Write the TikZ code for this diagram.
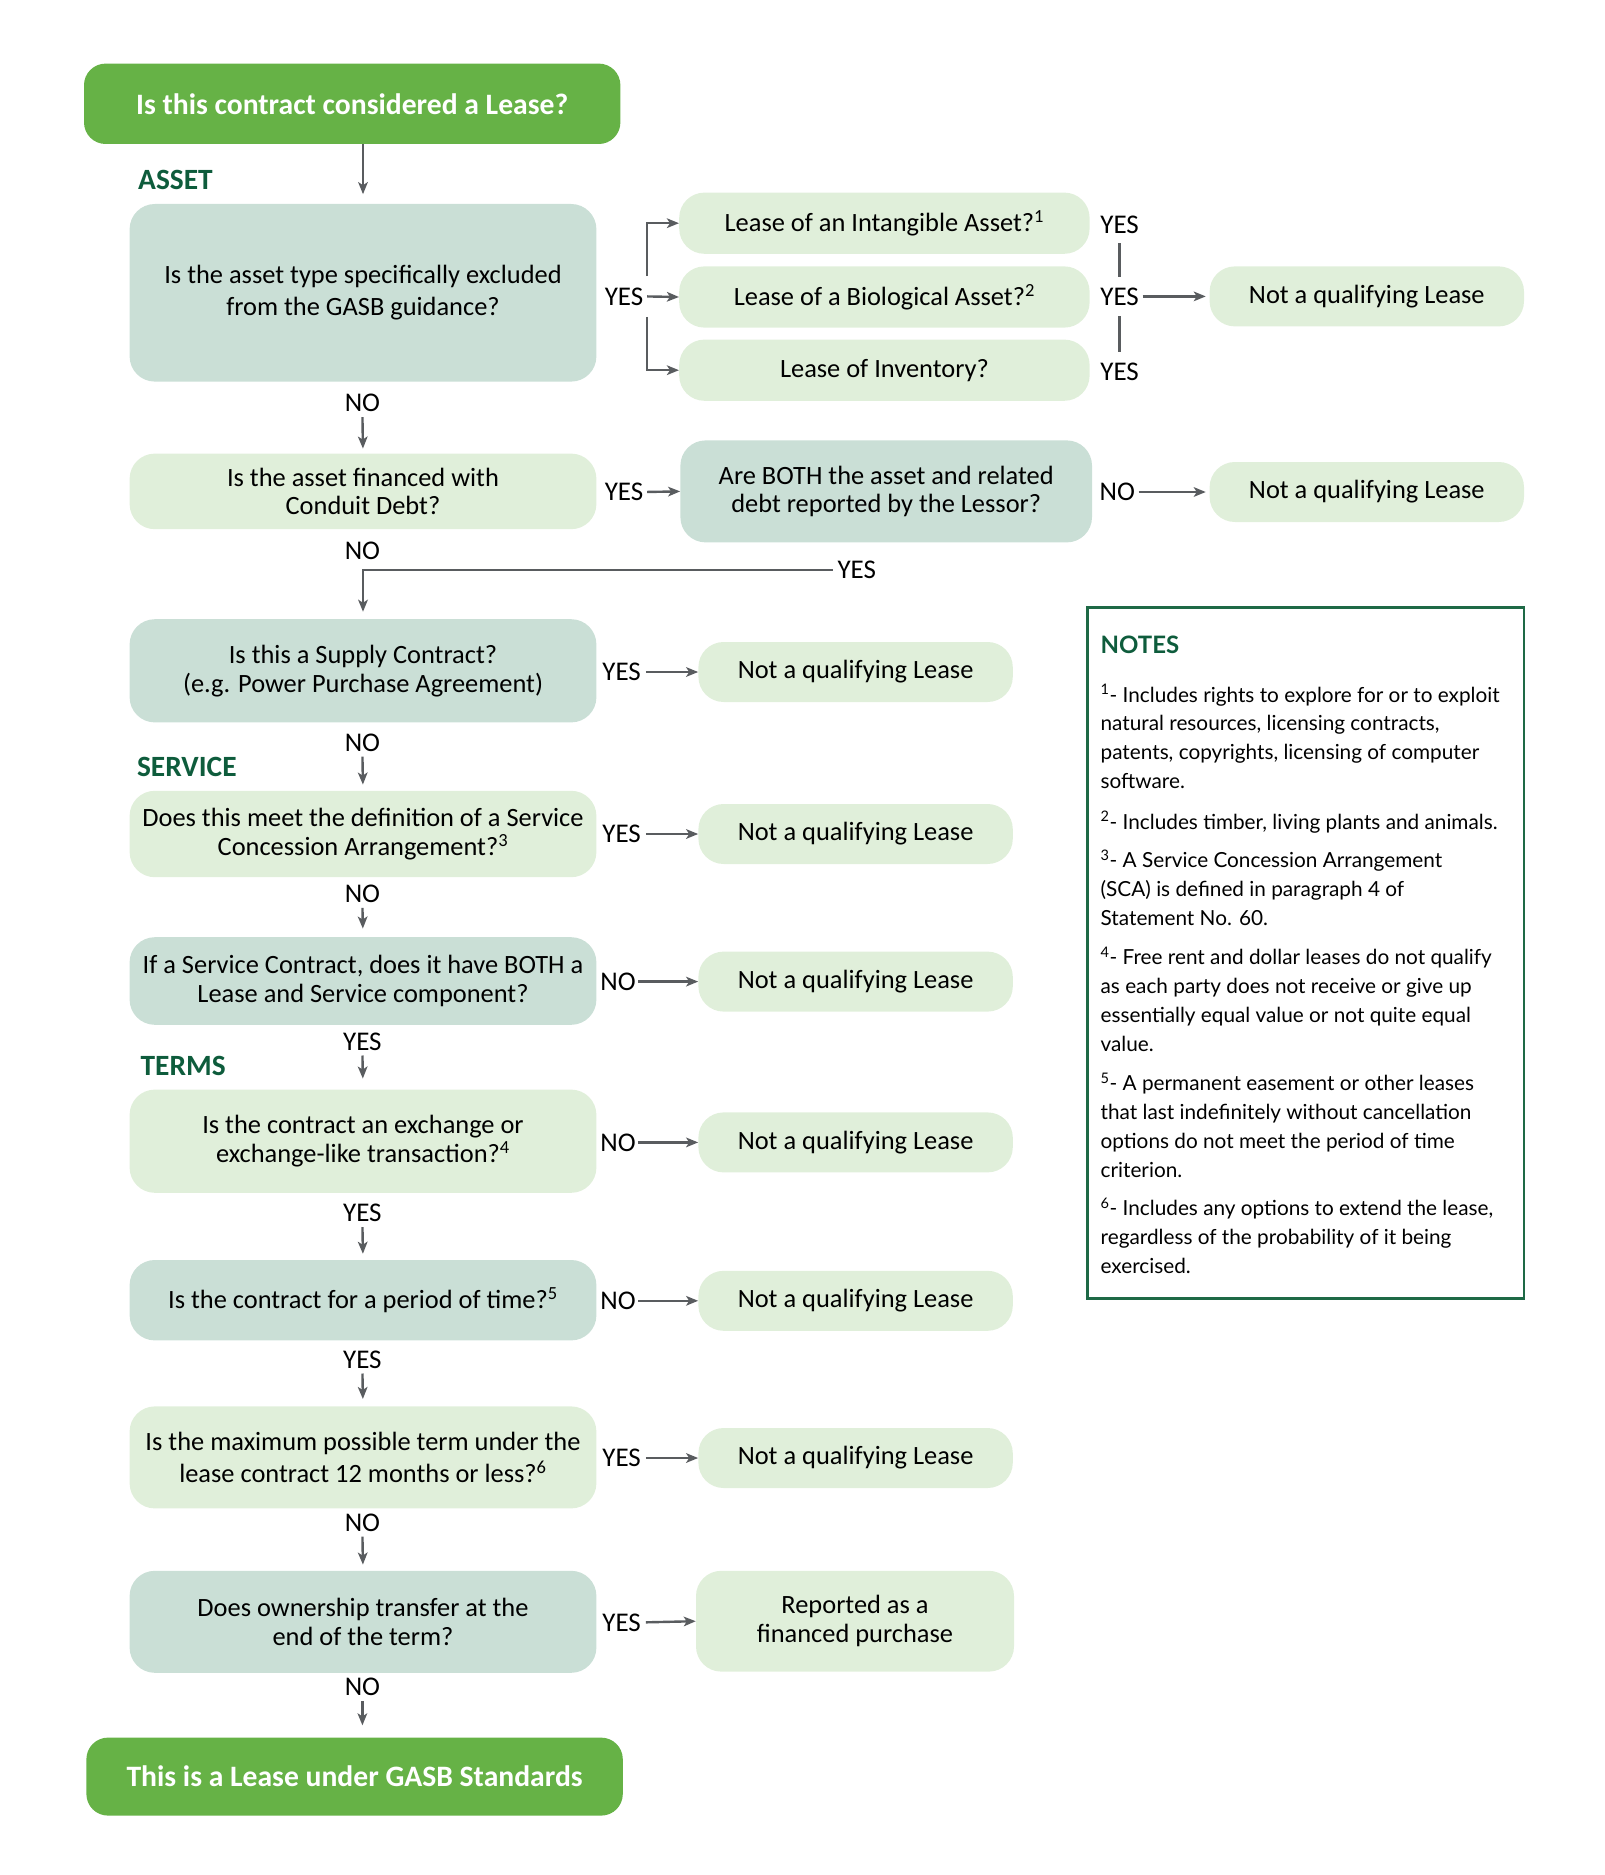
\documentclass[tikz,border=0pt]{standalone}
\usepackage{fontspec}
\setmainfont{Carlito}
\newfontfamily\notesfont{Lato}
\usetikzlibrary{arrows.meta}
\definecolor{brightg}{RGB}{102,178,70}
\definecolor{qgray}{RGB}{202,223,214}
\definecolor{qlight}{RGB}{224,239,218}
\definecolor{darkg}{RGB}{14,92,60}
\definecolor{arrowg}{RGB}{89,92,95}
\definecolor{notesb}{RGB}{30,105,70}
\newcommand\nline[3]{\node[nt] (#1) at (917,#2) {#3};}
\begin{document}
\begin{tikzpicture}[x=1pt,y=-1pt,
  box/.style={rounded corners=21pt, align=center, inner sep=0pt, font=\fontsize{22}{24}\selectfont},
  qa/.style={box, fill=qgray, minimum width=389pt},
  qb/.style={box, fill=qlight, minimum width=389pt},
  res/.style={box, fill=qlight, minimum width=262pt, minimum height=50pt},
  lq/.style={box, fill=qlight, minimum width=342pt, minimum height=51pt},
  term/.style={rounded corners=18pt, fill=brightg, text=white, inner sep=0pt, font=\bfseries\fontsize{24.7}{28}\selectfont, minimum width=447pt},
  lbl/.style={font=\fontsize{22.5}{24}\selectfont, inner sep=1pt},
  sec/.style={font=\bfseries\fontsize{24.5}{26}\selectfont, text=darkg, anchor=west, inner sep=0pt},
  arr/.style={draw=arrowg, line width=2pt, -{Stealth[length=10pt,width=8pt,inset=2.5pt]}},
  ln/.style={draw=arrowg, line width=2pt},
  nt/.style={font=\notesfont\fontsize{17.3}{24}\selectfont, anchor=base west, inner sep=0pt}
]
\useasboundingbox (0,0) rectangle (1336.7,1562.5);

% main column
\node[term, minimum height=67pt] (start) at (293.5,86.5) {Is this contract considered a Lease?};
\node[sec] (asset) at (115,150) {ASSET};
\node[qa, minimum height=148pt, font=\fontsize{22}{27}\selectfont] (A1) at (302.5,244) {Is the asset type specifically excluded\\from the GASB guidance?};
\node[lbl] (no1) at (302,336) {NO};
\node[qb, minimum height=63pt] (A2) at (302.5,409.5) {Is the asset financed with\\Conduit Debt?};
\node[lbl] (no2) at (302,459) {NO};
\node[qa, minimum height=86pt] (S1) at (302.5,559) {Is this a Supply Contract?\\(e.g. Power Purchase Agreement)};
\node[lbl] (no3) at (302,619) {NO};
\node[sec] (service) at (114,639) {SERVICE};
\node[qb, minimum height=72pt] (S2) at (302.5,695) {Does this meet the definition of a Service\\Concession Arrangement?\textsuperscript{3}};
\node[lbl] (no4) at (302,745) {NO};
\node[qa, minimum height=73pt] (S3) at (302.5,817.5) {If a Service Contract, does it have BOTH a\\Lease and Service component?};
\node[lbl] (yes5) at (302,868) {YES};
\node[sec] (terms) at (117,888) {TERMS};
\node[qb, minimum height=86pt] (T1) at (302.5,951) {Is the contract an exchange or\\exchange-like transaction?\textsuperscript{4}};
\node[lbl] (yes6) at (302,1011) {YES};
\node[qa, minimum height=67pt] (T2) at (302.5,1083.5) {Is the contract for a period of time?\textsuperscript{5}};
\node[lbl] (yes7) at (302,1133) {YES};
\node[qb, minimum height=85pt, font=\fontsize{22}{27}\selectfont] (T3) at (302.5,1214.5) {Is the maximum possible term under the\\lease contract 12 months or less?\textsuperscript{6}};
\node[lbl] (no8) at (302,1269) {NO};
\node[qa, minimum height=85pt] (T4) at (302.5,1351.5) {Does ownership transfer at the\\end of the term?};
\node[lbl] (no9) at (302,1406) {NO};
\node[term, minimum height=65pt] (end) at (295.5,1480.5) {This is a Lease under GASB Standards};

% top right
\node[lq] (L1) at (737,186) {Lease of an Intangible Asset?\textsuperscript{1}};
\node[lq] (L2) at (737,247.5) {Lease of a Biological Asset?\textsuperscript{2}};
\node[lq] (L3) at (737,308.5) {Lease of Inventory?};
\node[lbl] (ya) at (520,247) {YES};
\coordinate (br) at (539,247);
\node[lbl] (yl1) at (933,187) {YES};
\node[lbl] (yl2) at (933,247) {YES};
\node[lbl] (yl3) at (933,310) {YES};
\node[res] (RL) at (1139,247) {Not a qualifying Lease};

\node[lbl] (yb) at (520,410) {YES};
\node[box, fill=qgray, minimum width=343pt, minimum height=85pt] (both) at (738.5,409.5) {Are BOTH the asset and related\\debt reported by the Lessor?};
\node[lbl] (nb) at (931,410) {NO};
\node[res] (RB) at (1139,410) {Not a qualifying Lease};
\node[lbl, inner sep=4pt] (yc) at (714,475) {YES};

% results
\node[lbl] (ys1) at (518,560) {YES};
\node[res] (R1) at (713,560) {Not a qualifying Lease};
\node[lbl] (ys2) at (518,695) {YES};
\node[res] (R2) at (713,695) {Not a qualifying Lease};
\node[lbl] (ns3) at (515,818) {NO};
\node[res] (R3) at (713,818) {Not a qualifying Lease};
\node[lbl] (nt1) at (515,952) {NO};
\node[res] (R4) at (713,952) {Not a qualifying Lease};
\node[lbl] (nt2) at (515,1084) {NO};
\node[res] (R5) at (713,1084) {Not a qualifying Lease};
\node[lbl] (yt3) at (518,1215) {YES};
\node[res] (R6) at (713,1215) {Not a qualifying Lease};
\node[lbl] (yt4) at (518,1352) {YES};
\node[box, fill=qlight, minimum width=265pt, minimum height=84pt] (R7) at (712.5,1351) {Reported as a\\financed purchase};

% connectors main column
\draw[arr, shorten >=8pt] (start.south -| A1.north) -- (A1.north);
\draw[arr, shorten <=3pt, shorten >=4pt] (no1.south) -- (A2.north);
\draw[arr, shorten >=6pt] (yc.west) -| (S1.north);
\draw[arr, shorten <=3pt, shorten >=5pt] (no3.south) -- (S2.north);
\draw[arr, shorten <=3pt, shorten >=7pt] (no4.south) -- (S3.north);
\draw[arr, shorten <=3pt, shorten >=9pt] (yes5.south) -- (T1.north);
\draw[arr, shorten <=3pt, shorten >=5pt] (yes6.south) -- (T2.north);
\draw[arr, shorten <=3pt, shorten >=6pt] (yes7.south) -- (T3.north);
\draw[arr, shorten <=3pt, shorten >=5pt] (no8.south) -- (T4.north);
\draw[arr, shorten <=3pt, shorten >=10pt] (no9.south) -- (no9.south |- end.north);

% top right connectors
\draw[arr, shorten <=2pt] (ya.east) -- (L2.west);
\draw[arr] ([yshift=17pt]br) |- (L1.west);
\draw[arr] ([yshift=-17pt]br) |- (L3.west);
\draw[ln, shorten <=7pt, shorten >=8pt] (yl1.south) -- (yl2.north);
\draw[ln, shorten <=8pt, shorten >=8pt] (yl2.south) -- (yl3.north);
\draw[arr, shorten <=2pt, shorten >=3pt] (yl2.east) -- (RL.west);
\draw[arr, shorten <=2pt] (yb.east) -- (both.west);
\draw[arr, shorten <=2pt, shorten >=3pt] (nb.east) -- (RB.west);

% side results
\draw[arr, shorten <=3pt] (ys1.east) -- (R1.west);
\draw[arr, shorten <=3pt] (ys2.east) -- (R2.west);
\draw[arr, shorten <=1pt] (ns3.east) -- (R3.west);
\draw[arr, shorten <=1pt] (nt1.east) -- (R4.west);
\draw[arr, shorten <=1pt] (nt2.east) -- (R5.west);
\draw[arr, shorten <=3pt] (yt3.east) -- (R6.west);
\draw[arr, shorten <=3pt] (yt4.east) -- (R7.west);

% notes
\node[draw=notesb, line width=2.2pt, minimum width=364pt, minimum height=576pt, inner sep=0pt] (notes) at (1088,794) {};
\node[font=\notesfont\bfseries\fontsize{20}{22}\selectfont, text=darkg, anchor=west, inner sep=0pt] (ntitle) at (917,537) {NOTES};
\nline{n1a}{585}{\textsuperscript{1}- Includes rights to explore for or to exploit}
\nline{n1b}{609}{natural resources, licensing contracts,}
\nline{n1c}{633}{patents, copyrights, licensing of computer}
\nline{n1d}{657}{software.}
\nline{n2a}{691}{\textsuperscript{2}- Includes timber, living plants and animals.}
\nline{n3a}{723}{\textsuperscript{3}- A Service Concession Arrangement}
\nline{n3b}{747}{(SCA) is defined in paragraph 4 of}
\nline{n3c}{771}{Statement No. 60.}
\nline{n4a}{804}{\textsuperscript{4}- Free rent and dollar leases do not qualify}
\nline{n4b}{828}{as each party does not receive or give up}
\nline{n4c}{852}{essentially equal value or not quite equal}
\nline{n4d}{876}{value.}
\nline{n5a}{909}{\textsuperscript{5}- A permanent easement or other leases}
\nline{n5b}{933}{that last indefinitely without cancellation}
\nline{n5c}{957}{options do not meet the period of time}
\nline{n5d}{981}{criterion.}
\nline{n6a}{1013}{\textsuperscript{6}- Includes any options to extend the lease,}
\nline{n6b}{1037}{regardless of the probability of it being}
\nline{n6c}{1061}{exercised.}
\end{tikzpicture}
\end{document}
